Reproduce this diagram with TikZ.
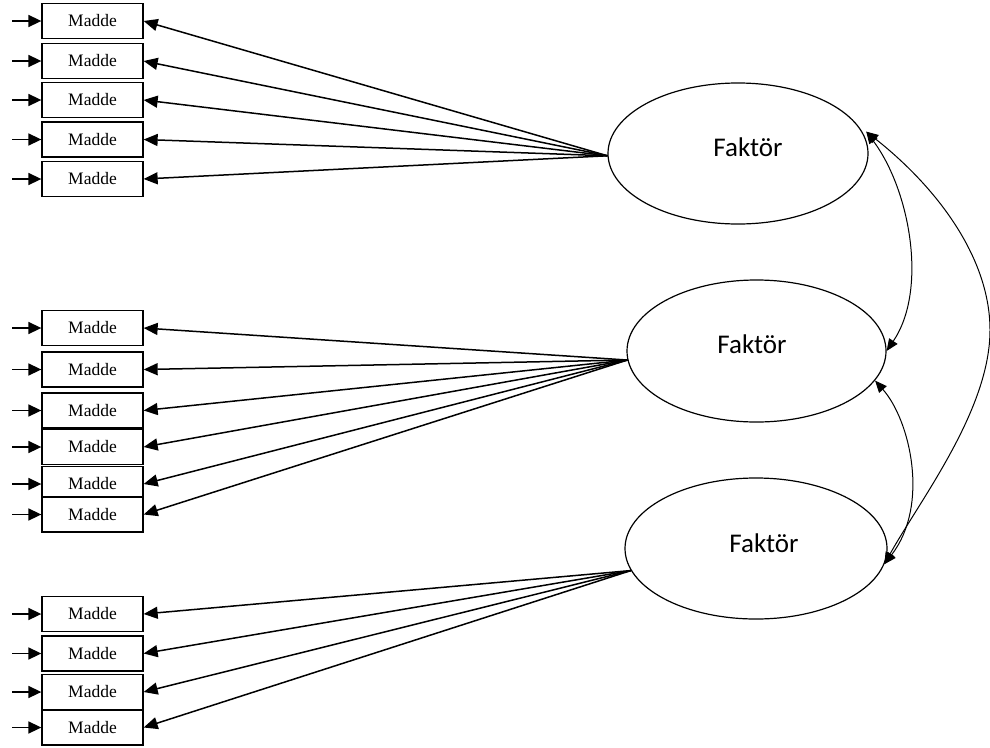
\documentclass[tikz,border=0pt]{standalone}
\usepackage{fontspec}
\setmainfont{Liberation Serif}
\newfontfamily\calibfont{Carlito}
\usetikzlibrary{shapes.geometric,arrows.meta}
\begin{document}
\begin{tikzpicture}[x=1pt,y=-1pt,
  madde/.style={draw, line width=1.3pt, fill=white, minimum width=101pt, minimum height=35pt,
    inner sep=0pt, font=\fontsize{17.5}{20}\selectfont},
  faktor/.style={draw, ellipse, line width=1.2pt, inner sep=0pt},
  ftext/.style={font=\calibfont\fontsize{27}{30}\selectfont, inner sep=0pt},
  load/.style={line width=1.5pt, -{Triangle[length=14pt,width=12pt]}},
  err/.style={line width=1.6pt, -{Triangle[length=13pt,width=12pt]}},
  cov/.style={line width=1pt, {Triangle[length=12pt,width=10pt]}-{Triangle[length=12pt,width=10pt]}}
]
\useasboundingbox[fill=white] (0,0) rectangle (990,747);

% factors
\node[faktor, minimum width=260pt, minimum height=141pt] (f1) at (738,153.5) {};
\node[faktor, minimum width=259pt, minimum height=142pt] (f2) at (756.5,351) {};
\node[faktor, minimum width=262pt, minimum height=141pt] (f3) at (756,548.5) {};
\node[ftext] (t1) at (748,147) {Faktör};
\node[ftext] (t2) at (752,344.5) {Faktör};
\node[ftext] (t3) at (764,543.5) {Faktör};

% items
\foreach \n/\y in {m11/21, m12/61, m13/100, m14/139.5, m15/179,
                   m21/328, m22/369.5, m23/410.5, m24/447, m25/484, m26/514.5,
                   m31/614, m32/653.5, m33/692, m34/727.5} {
  \node[madde] (\n) at (92.5,\y) {Madde};
  \coordinate (e\n) at (12,\y);
  \draw[err] (e\n) -- (\n.west);
}

% loadings
\foreach \n in {m11,m12,m13,m14,m15} \draw[load] (f1.181) -- (\n.east);
\foreach \n in {m21,m22,m23,m24,m25,m26} \draw[load] (f2.184.5) -- (\n.east);
\foreach \n in {m31,m32,m33,m34} \draw[load] (f3.190) -- (\n.east);

% covariances
\draw[cov] ([xshift=4pt]f1.10) .. controls (910,190) and (928,290) .. (f2.east);
\draw[cov] ([xshift=4pt]f1.10) .. controls (940,190) and (990,260) .. (990,330)
           .. controls (990,410) and (920,500) .. (f3.-7.5);
\draw[cov] (f2.-14) .. controls (910,420) and (930,505) .. (f3.-7.5);
\end{tikzpicture}
\end{document}
